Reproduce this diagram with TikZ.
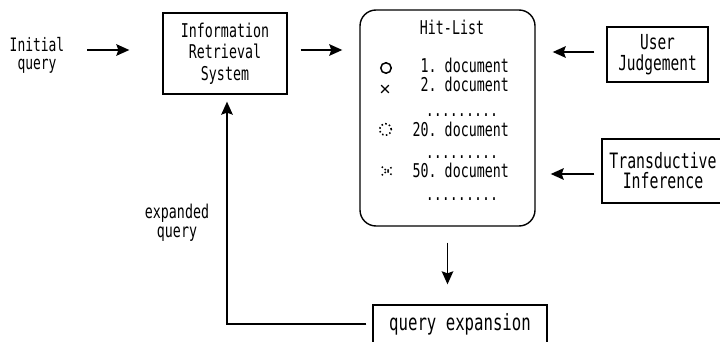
\documentclass[tikz,border=0pt]{standalone}
\usepackage{fontspec}
\newfontfamily\gothic[FakeStretch=0.7]{DejaVu Sans Mono}
\usetikzlibrary{arrows.meta,shapes.misc}
\newcommand{\gf}[2]{\gothic\frenchspacing\fontsize{#1}{#2}\selectfont}
\begin{document}
\begin{tikzpicture}[x=1pt,y=-1pt,
  box/.style={draw, line width=1.3pt, inner sep=0pt, align=center, font=\gf{19}{21.7}},
  lbl/.style={inner sep=0pt, align=center, font=\gf{19}{17}},
  arr/.style={line width=1.8pt, -{Stealth[length=13pt,width=11.5pt,inset=2pt]}},
  docmark/.style={draw, line width=1.3pt, inner sep=0pt},
]
\useasboundingbox (0,0) rectangle (720,342);

% main boxes
\node[lbl, font=\gf{18.5}{18}] (init) at (37,55) {Initial\\query};
\node[box, minimum width=124pt, minimum height=81pt] (irs) at (225,53.5) {Information\\Retrieval\\System};
\node[draw, line width=1.4pt, rounded corners=16pt, minimum width=175pt, minimum height=216pt] (hit) at (447.5,118) {};
\node[box, minimum width=101pt, minimum height=55pt, font=\gf{20.7}{21.6}] (user) at (657.5,54.5) {User\\Judgement};
\node[box, minimum width=122pt, minimum height=64pt, font=\gf{21.2}{20}] (trans) at (663,171) {Transductive\\Inference};
\node[box, minimum width=174pt, minimum height=38pt, font=\gf{22.4}{20}] (qe) at (460,324) {query expansion};
\node[lbl, font=\gf{19}{18.5}] (expq) at (177,223) {expanded\\query};

% hit-list contents
\node[lbl, anchor=base] (title) at (452,35) {Hit-List};
\node[lbl, anchor=base east] (d1) at (509,73) {1. document};
\node[lbl, anchor=base east] (d2) at (509,92) {2. document};
\node[lbl, anchor=base] (gap1) at (462,117) {.........};
\node[lbl, anchor=base east] (d20) at (509,137) {20. document};
\node[lbl, anchor=base] (gap2) at (462,158) {.........};
\node[lbl, anchor=base east] (d50) at (509,177) {50. document};
\node[lbl, anchor=base] (gap3) at (462,200) {.........};

\node[docmark, circle, minimum size=10.5pt, line width=1.5pt] (s1) at (386,68) {};
\node[docmark, cross out, minimum size=6.5pt, line width=1.2pt] (s2) at (385,89) {};
\node[docmark, circle, minimum size=11.5pt, line width=1.6pt, dash pattern=on 1.5pt off 2.4pt] (s20) at (385.5,129.5) {};
\node[docmark, cross out, minimum width=9pt, minimum height=7pt, line width=1.5pt, dash pattern=on 1.5pt off 2.2pt] (s50) at (387,171) {};

% connectors
\coordinate (flow) at (0,50);
\coordinate (ujrow) at (0,52);
\coordinate (tirow) at (0,174);
\coordinate (corner) at (227,324);
\draw[arr, shorten <=23pt, shorten >=33pt] (init.east |- flow) -- (irs.west |- flow);
\draw[arr, shorten <=13pt, shorten >=17pt] (irs.east |- flow) -- (hit.west |- flow);
\draw[arr, shorten <=12pt, shorten >=17pt] (user.west |- ujrow) -- (hit.east |- ujrow);
\draw[arr, shorten <=7pt, shorten >=15pt] (trans.west |- tirow) -- (hit.east |- tirow);
\draw[arr, shorten <=16pt, shorten >=20pt] (hit.south) -- (hit.south |- qe.north);
\draw[arr, shorten <=6pt, shorten >=7pt] (qe.west |- corner) -- (corner) -- (corner |- irs.south);
\end{tikzpicture}
\end{document}
